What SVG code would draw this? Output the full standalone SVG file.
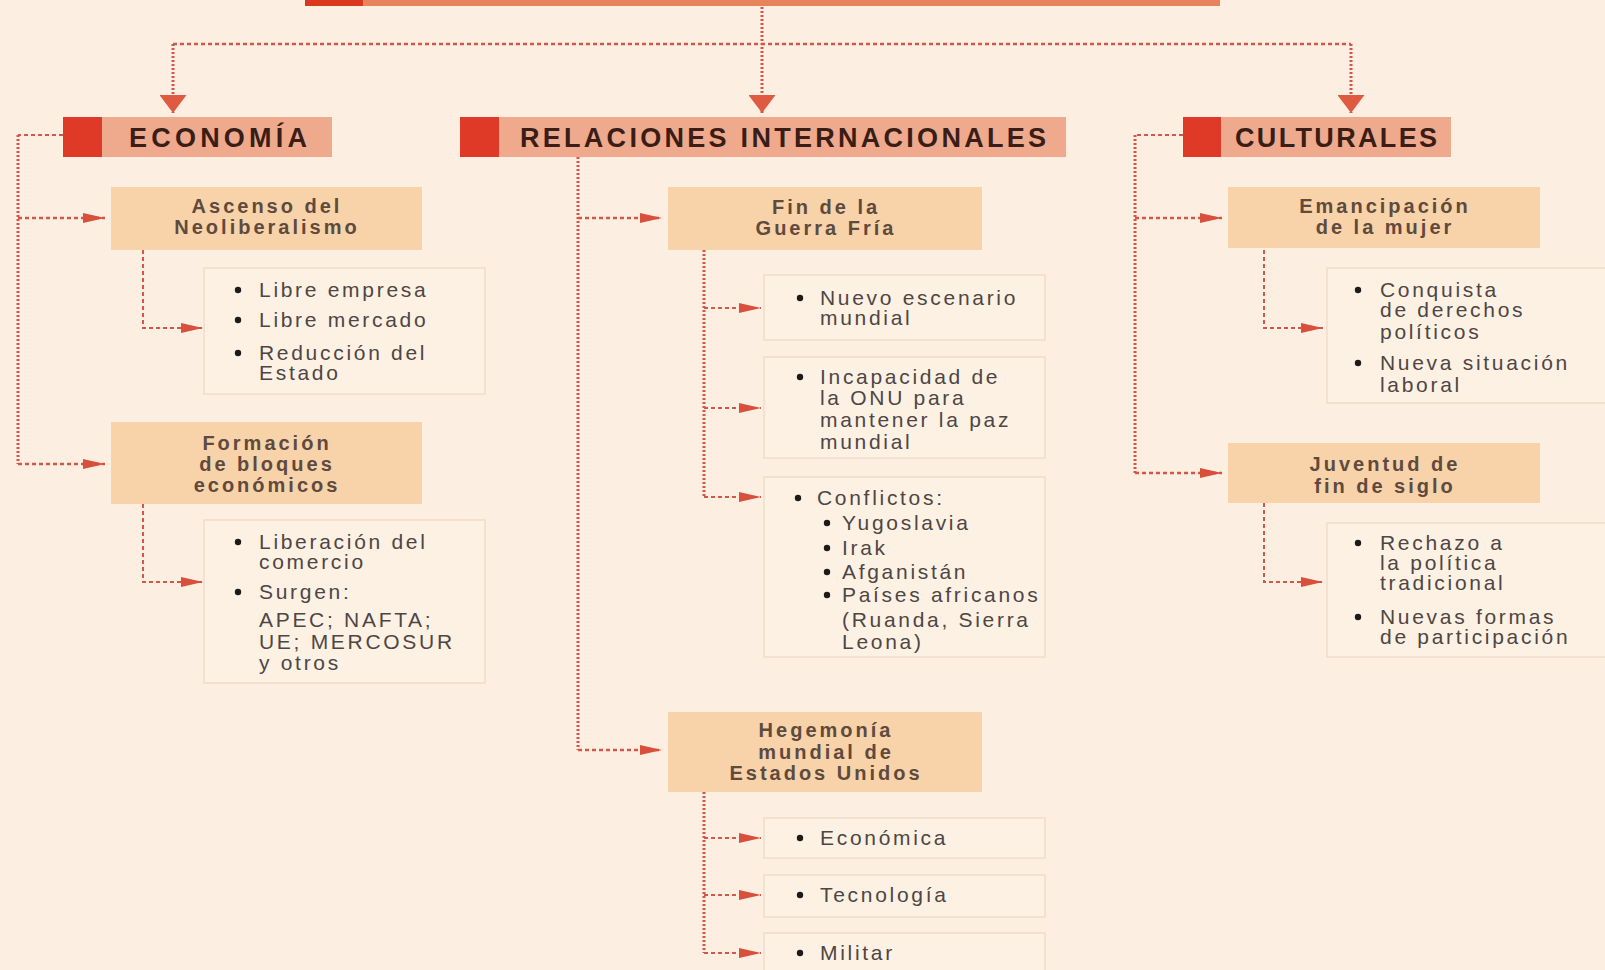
<svg xmlns="http://www.w3.org/2000/svg" width="1605" height="970" viewBox="0 0 1605 970">
<defs>
<style>
.hdr{fill:#efa98c}
.red{fill:#df3a27}
.node{fill:#f8d2a8}
.list{fill:#fdf1e4;stroke:#f1dcc7;stroke-width:1.5}
.ht{font-family:"Liberation Sans",Arial,sans-serif;font-weight:bold;font-size:27px;fill:#3a1d16}
.nt{font-family:"Liberation Sans",Arial,sans-serif;font-weight:bold;font-size:20px;fill:#5e4a3e;text-anchor:middle;letter-spacing:3px}
.lt{font-family:"Liberation Sans",Arial,sans-serif;font-size:21px;fill:#4e4644;letter-spacing:2.7px}
.bu{fill:#1e1a1a}
.c{fill:none;stroke:#d2574a;stroke-width:2.5;stroke-dasharray:4 3}
.cv{fill:none;stroke:#d2574a;stroke-width:3;stroke-dasharray:2 2}
.cs{fill:none;stroke:#d2574a;stroke-width:2;stroke-dasharray:4 3}
</style>
<marker id="ah" markerUnits="userSpaceOnUse" markerWidth="22" markerHeight="12" refX="22" refY="6" orient="auto" viewBox="0 0 22 12">
<path d="M0,1 L22,6 L0,11 z" fill="#d8503c"/>
</marker>
<marker id="ahb" markerUnits="userSpaceOnUse" markerWidth="18" markerHeight="27" refX="18" refY="13.5" orient="auto" viewBox="0 0 18 27">
<path d="M0,0 L18,13.5 L0,27 z" fill="#de5a40"/>
</marker>
</defs>
<rect width="1605" height="970" fill="#fdeee2"/>

<g id="title-bar">
<rect x="305" y="-10" width="915" height="16" fill="#e8845c"/>
<rect x="305" y="-10" width="58" height="16" fill="#d9381f"/>
</g>

<g id="connectors">
<path class="cv" d="M762,7 V113" marker-end="url(#ahb)"/>
<path class="c" d="M173,44 H1351"/>
<path class="cv" d="M173,44 V113" marker-end="url(#ahb)"/>
<path class="cv" d="M1351,44 V113" marker-end="url(#ahb)"/>

<path class="cs" d="M63,135 H18"/>
<path class="cv" d="M18,135 V464"/>
<path class="c" d="M18,218 H105" marker-end="url(#ah)"/>
<path class="c" d="M18,464 H105" marker-end="url(#ah)"/>
<path class="cs" d="M143,250 V328 H203" marker-end="url(#ah)"/>
<path class="cs" d="M143,504 V582 H203" marker-end="url(#ah)"/>

<path class="cv" d="M578,157 V750"/>
<path class="c" d="M578,218 H662" marker-end="url(#ah)"/>
<path class="c" d="M578,750 H662" marker-end="url(#ah)"/>
<path class="cv" d="M704,250 V497"/>
<path class="cs" d="M704,308 H761" marker-end="url(#ah)"/>
<path class="cs" d="M704,408 H761" marker-end="url(#ah)"/>
<path class="cs" d="M704,497 H761" marker-end="url(#ah)"/>
<path class="cv" d="M704,792 V953"/>
<path class="cs" d="M704,838 H761" marker-end="url(#ah)"/>
<path class="cs" d="M704,895 H761" marker-end="url(#ah)"/>
<path class="cs" d="M704,953 H761" marker-end="url(#ah)"/>

<path class="cs" d="M1183,135 H1135"/>
<path class="cv" d="M1135,135 V473"/>
<path class="c" d="M1135,218 H1222" marker-end="url(#ah)"/>
<path class="c" d="M1135,473 H1222" marker-end="url(#ah)"/>
<path class="cs" d="M1264,250 V328 H1323" marker-end="url(#ah)"/>
<path class="cs" d="M1264,503 V582 H1323" marker-end="url(#ah)"/>
</g>

<g id="h-economia">
<rect class="hdr" x="63" y="117" width="269" height="40"/>
<rect class="red" x="63" y="117" width="39" height="40"/>
<text class="ht" x="129" y="147" textLength="178" lengthAdjust="spacing">ECONOMÍA</text>
</g>
<g id="h-relaciones">
<rect class="hdr" x="460" y="117" width="606" height="40"/>
<rect class="red" x="460" y="117" width="39" height="40"/>
<text class="ht" x="520" y="147" textLength="526" lengthAdjust="spacing">RELACIONES INTERNACIONALES</text>
</g>
<g id="h-culturales">
<rect class="hdr" x="1183" y="117" width="268" height="40"/>
<rect class="red" x="1183" y="117" width="38" height="40"/>
<text class="ht" x="1235" y="147" textLength="202" lengthAdjust="spacing">CULTURALES</text>
</g>

<g id="n-ascenso">
<rect class="node" x="111" y="187" width="311" height="63"/>
<text class="nt" x="267" y="213">Ascenso del</text>
<text class="nt" x="267" y="234">Neoliberalismo</text>
</g>
<g id="l-ascenso">
<rect class="list" x="204" y="268" width="281" height="126"/>
<circle class="bu" cx="238" cy="290" r="3.2"/>
<circle class="bu" cx="238" cy="320" r="3.2"/>
<circle class="bu" cx="238" cy="353" r="3.2"/>
<text class="lt" x="259" y="297">Libre empresa</text>
<text class="lt" x="259" y="327">Libre mercado</text>
<text class="lt" x="259" y="360">Reducción del</text>
<text class="lt" x="259" y="380">Estado</text>
</g>
<g id="n-formacion">
<rect class="node" x="111" y="422" width="311" height="82"/>
<text class="nt" x="267" y="450">Formación</text>
<text class="nt" x="267" y="471">de bloques</text>
<text class="nt" x="267" y="492">económicos</text>
</g>
<g id="l-formacion">
<rect class="list" x="204" y="520" width="281" height="163"/>
<circle class="bu" cx="238" cy="542" r="3.2"/>
<circle class="bu" cx="238" cy="592" r="3.2"/>
<text class="lt" x="259" y="549">Liberación del</text>
<text class="lt" x="259" y="569">comercio</text>
<text class="lt" x="259" y="599">Surgen:</text>
<text class="lt" x="259" y="627">APEC; NAFTA;</text>
<text class="lt" x="259" y="649">UE; MERCOSUR</text>
<text class="lt" x="259" y="670">y otros</text>
</g>

<g id="n-fin">
<rect class="node" x="668" y="187" width="314" height="63"/>
<text class="nt" x="826" y="214">Fin de la</text>
<text class="nt" x="826" y="235">Guerra Fría</text>
</g>
<g id="l-nuevo">
<rect class="list" x="764" y="275" width="281" height="65"/>
<circle class="bu" cx="800" cy="298" r="3.2"/>
<text class="lt" x="820" y="305">Nuevo escenario</text>
<text class="lt" x="820" y="325">mundial</text>
</g>
<g id="l-onu">
<rect class="list" x="764" y="357" width="281" height="101"/>
<circle class="bu" cx="800" cy="377" r="3.2"/>
<text class="lt" x="820" y="384">Incapacidad de</text>
<text class="lt" x="820" y="405">la ONU para</text>
<text class="lt" x="820" y="427">mantener la paz</text>
<text class="lt" x="820" y="449">mundial</text>
</g>
<g id="l-conflictos">
<rect class="list" x="764" y="477" width="281" height="180"/>
<circle class="bu" cx="798" cy="498" r="3.2"/>
<text class="lt" x="817" y="505">Conflictos:</text>
<circle class="bu" cx="827" cy="523" r="3.2"/>
<circle class="bu" cx="827" cy="548" r="3.2"/>
<circle class="bu" cx="827" cy="572" r="3.2"/>
<circle class="bu" cx="827" cy="595" r="3.2"/>
<text class="lt" x="842" y="530">Yugoslavia</text>
<text class="lt" x="842" y="555">Irak</text>
<text class="lt" x="842" y="579">Afganistán</text>
<text class="lt" x="842" y="602">Países africanos</text>
<text class="lt" x="842" y="627">(Ruanda, Sierra</text>
<text class="lt" x="842" y="649">Leona)</text>
</g>
<g id="n-hegemonia">
<rect class="node" x="668" y="712" width="314" height="80"/>
<text class="nt" x="826" y="737">Hegemonía</text>
<text class="nt" x="826" y="759">mundial de</text>
<text class="nt" x="826" y="780">Estados Unidos</text>
</g>
<g id="l-economica">
<rect class="list" x="764" y="818" width="281" height="40"/>
<circle class="bu" cx="800" cy="838" r="3.2"/>
<text class="lt" x="820" y="845">Económica</text>
</g>
<g id="l-tecnologia">
<rect class="list" x="764" y="875" width="281" height="42"/>
<circle class="bu" cx="800" cy="895" r="3.2"/>
<text class="lt" x="820" y="902">Tecnología</text>
</g>
<g id="l-militar">
<rect class="list" x="764" y="933" width="281" height="50"/>
<circle class="bu" cx="800" cy="953" r="3.2"/>
<text class="lt" x="820" y="960">Militar</text>
</g>

<g id="n-emancipacion">
<rect class="node" x="1228" y="187" width="312" height="61"/>
<text class="nt" x="1385" y="213">Emancipación</text>
<text class="nt" x="1385" y="234">de la mujer</text>
</g>
<g id="l-emancipacion">
<rect class="list" x="1327" y="268" width="285" height="135"/>
<circle class="bu" cx="1358" cy="290" r="3.2"/>
<circle class="bu" cx="1358" cy="363" r="3.2"/>
<text class="lt" x="1380" y="297">Conquista</text>
<text class="lt" x="1380" y="317">de derechos</text>
<text class="lt" x="1380" y="339">políticos</text>
<text class="lt" x="1380" y="370">Nueva situación</text>
<text class="lt" x="1380" y="392">laboral</text>
</g>
<g id="n-juventud">
<rect class="node" x="1228" y="443" width="312" height="60"/>
<text class="nt" x="1385" y="471">Juventud de</text>
<text class="nt" x="1385" y="493">fin de siglo</text>
</g>
<g id="l-juventud">
<rect class="list" x="1327" y="523" width="285" height="134"/>
<circle class="bu" cx="1358" cy="543" r="3.2"/>
<circle class="bu" cx="1358" cy="617" r="3.2"/>
<text class="lt" x="1380" y="550">Rechazo a</text>
<text class="lt" x="1380" y="570">la política</text>
<text class="lt" x="1380" y="590">tradicional</text>
<text class="lt" x="1380" y="624">Nuevas formas</text>
<text class="lt" x="1380" y="644">de participación</text>
</g>
</svg>
